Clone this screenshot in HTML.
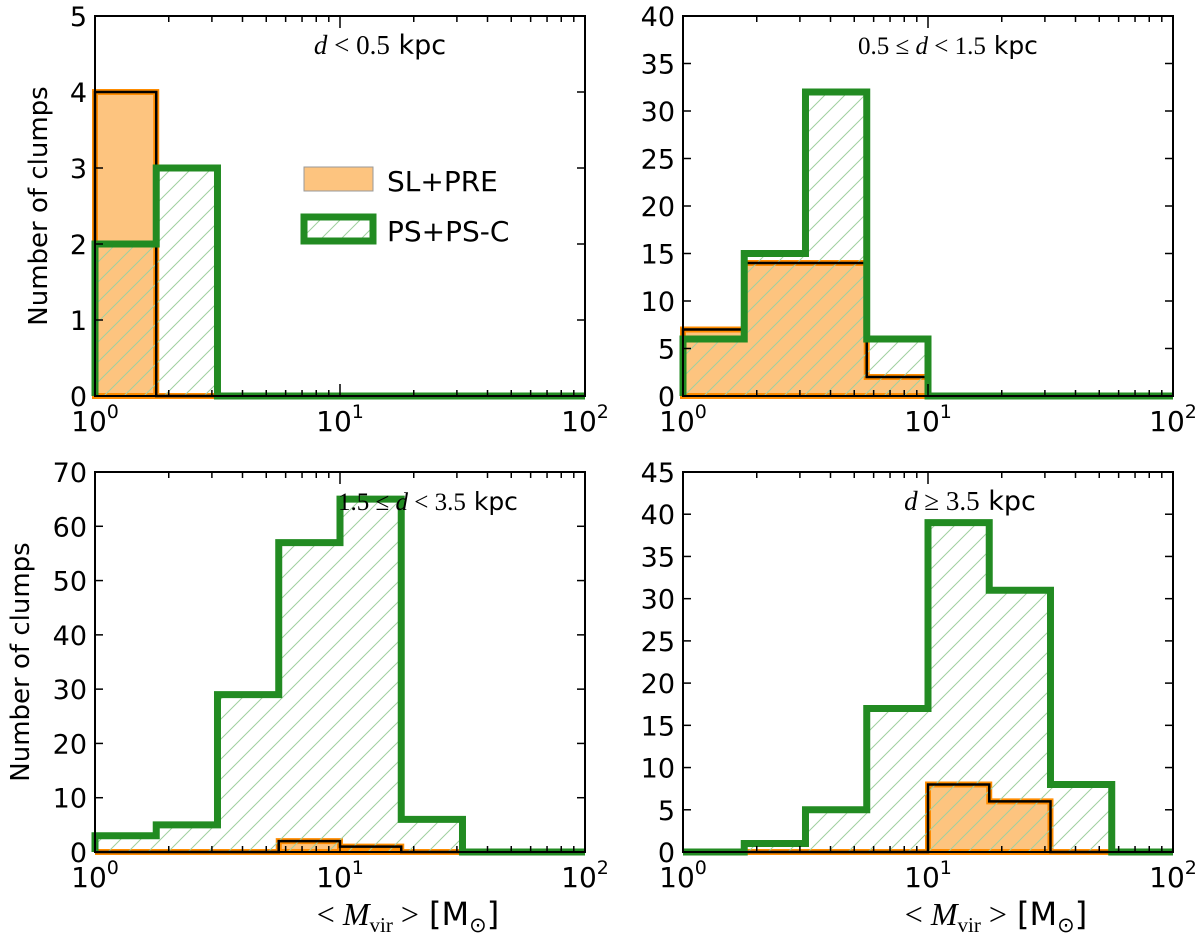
<!DOCTYPE html>
<html><head><meta charset="utf-8"><style>
body{margin:0;background:#fff}
svg{display:block;font-family:"DejaVu Sans","Liberation Sans",sans-serif}
</style></head><body>
<svg id="c" width="1200" height="943" viewBox="0 0 1200 943">
<defs>
<pattern id="hatch" patternUnits="userSpaceOnUse" width="20" height="20">
<path d="M-5,5 L5,-5 M0,20 L20,0 M15,25 L25,15" stroke="#9fd09f" stroke-width="1"/>
</pattern>
</defs>
</svg>
<script>
const edges=[1,1.778,3.162,5.623,10,17.78,31.62,56.23,100];
const yMaxes=[5,40,70,45];
const yStepsArr=[1,5,10,5];
const orange_tl=[4,0,0,0,0,0,0,0];
const green_tl=[2,3,0,0,0,0,0,0];
const orange_tr=[7,14,14,2,0,0,0,0];
const green_tr=[6,15,32,6,0,0,0,0];
const orange_bl=[0,0,0,2,1,0,0,0];
const green_bl=[3,5,29,57,65,6,0,0];
const orange_br=[0,0,0,0,8,6,0,0];
const green_br=[0,1,5,17,39,31,8,0];
const xTickLabels=["0","1","2"];

const svg=document.getElementById('c');
const NS='http://www.w3.org/2000/svg';
function mk(t,a,p){const e=document.createElementNS(NS,t);for(const k in a)e.setAttribute(k,a[k]);(p||svg).appendChild(e);return e;}
const panels=[
 {x0:95,x1:585,y0:16,y1:396,o:orange_tl,g:green_tl,name:'panel-d-lt-0-5',tx:380,ylab:true},
 {x0:683,x1:1173,y0:16,y1:396,o:orange_tr,g:green_tr,name:'panel-d-0-5-1-5',tx:948},
 {x0:95,x1:585,y0:472,y1:852,o:orange_bl,g:green_bl,name:'panel-d-1-5-3-5',tx:428,ylab:true,xlab:true},
 {x0:683,x1:1173,y0:472,y1:852,o:orange_br,g:green_br,name:'panel-d-ge-3-5',tx:970,xlab:true}
];
const titleSize=[27,25,25,27];
const titleHTML=[
 '<tspan font-family="Liberation Serif" font-style="italic">d</tspan><tspan font-family="Liberation Serif"> &lt; 0.5</tspan> kpc',
 '<tspan font-family="Liberation Serif">0.5 ≤ </tspan><tspan font-family="Liberation Serif" font-style="italic">d</tspan><tspan font-family="Liberation Serif"> &lt; 1.5</tspan> kpc',
 '<tspan font-family="Liberation Serif">1.5 ≤ </tspan><tspan font-family="Liberation Serif" font-style="italic">d</tspan><tspan font-family="Liberation Serif"> &lt; 3.5</tspan> kpc',
 '<tspan font-family="Liberation Serif" font-style="italic">d</tspan><tspan font-family="Liberation Serif"> ≥ 3.5</tspan> kpc'
];
panels.forEach((P,pi)=>{
 const g=mk('g',{});
 
 
 const ymax=yMaxes[pi];
 const xs=v=>P.x0+(Math.log10(v)/2)*(P.x1-P.x0);
 const ys=v=>P.y1-(v/ymax)*(P.y1-P.y0);
 function stepPath(vals){let d='M'+xs(edges[0])+','+ys(0);for(let i=0;i<vals.length;i++){d+=' L'+xs(edges[i])+','+ys(vals[i])+' L'+xs(edges[i+1])+','+ys(vals[i]);}d+=' L'+xs(edges[8])+','+ys(0);return d;}
 const of=mk('path',{d:stepPath(P.o)+' Z',fill:'#fdc47f',stroke:'#ff8c00','stroke-width':6},g);
 
 
 const gh=mk('path',{d:stepPath(P.g)+' Z',fill:'url(#hatch)',stroke:'none'},g);
 
 
 const ob=mk('path',{d:stepPath(P.o),fill:'none',stroke:'#000','stroke-width':2.5},g);
 
 
 const gl=mk('path',{d:stepPath(P.g),fill:'none',stroke:'#228b22','stroke-width':7},g);
 
 
 const tt=mk('text',{x:P.tx,y:P.y0+38,'text-anchor':'middle','font-size':titleSize[pi]},g);
 tt.innerHTML=titleHTML[pi];
 
 
 const fr=mk('rect',{x:P.x0,y:P.y0,width:P.x1-P.x0,height:P.y1-P.y0,fill:'none',stroke:'#000','stroke-width':2},g);
 
 
 for(let v=0;v<=ymax+1e-9;v+=yStepsArr[pi]){
  const y=ys(v);
  mk('line',{x1:P.x0,x2:P.x0+8,y1:y,y2:y,stroke:'#000','stroke-width':1.5},g);
  mk('line',{x1:P.x1,x2:P.x1-8,y1:y,y2:y,stroke:'#000','stroke-width':1.5},g);
  const t=mk('text',{x:P.x0-8,y:y+10,'text-anchor':'end','font-size':27},g);t.textContent=v;
  
  
 }
 for(let dec=0;dec<2;dec++)for(let m=1;m<10;m++){
  const x=xs(Math.pow(10,dec)*m);const L=m==1?12:6;
  mk('line',{x1:x,x2:x,y1:P.y1,y2:P.y1-L,stroke:'#000','stroke-width':1.5},g);
  mk('line',{x1:x,x2:x,y1:P.y0,y2:P.y0+L,stroke:'#000','stroke-width':1.5},g);
 }
 xTickLabels.forEach((e,i)=>{
  const x=xs(Math.pow(10,i));
  const t=mk('text',{x:x,y:P.y1+35,'text-anchor':'middle','font-size':28},g);
  t.innerHTML='10<tspan font-size="19" dy="-13">'+e+'</tspan>';
  
  
 });
 if(P.ylab){const yl=mk('text',{x:0,y:0,transform:'translate('+(pi==0?47:29)+','+((P.y0+P.y1)/2)+') rotate(-90)','text-anchor':'middle','font-size':26},g);yl.textContent='Number of clumps';
  
  }
 if(P.xlab){const xl=mk('text',{x:(P.x0+P.x1)/2+68,y:925,'text-anchor':'middle','font-size':32},g);
  xl.innerHTML='<tspan font-family="Liberation Serif">&lt; </tspan><tspan font-family="Liberation Serif" font-style="italic">M</tspan><tspan font-family="Liberation Serif" font-size="21" dy="7">vir</tspan><tspan font-family="Liberation Serif" dy="-7"> &gt;</tspan>  [M<tspan font-size="21" dy="7">⊙</tspan><tspan dy="-7">]</tspan>';
  
  }
});
const lg=mk('g',{});


mk('rect',{x:304,y:167,width:69,height:24,fill:'#fdc47f',stroke:'#999','stroke-width':1},lg);
const l1=mk('text',{x:387,y:191,'font-size':28},lg);l1.textContent='SL+PRE';


mk('rect',{x:304,y:217,width:69,height:24,fill:'url(#hatch)',stroke:'#228b22','stroke-width':7},lg);
const l2=mk('text',{x:387,y:241,'font-size':28},lg);l2.textContent='PS+PS-C';


</script>
</body></html>
